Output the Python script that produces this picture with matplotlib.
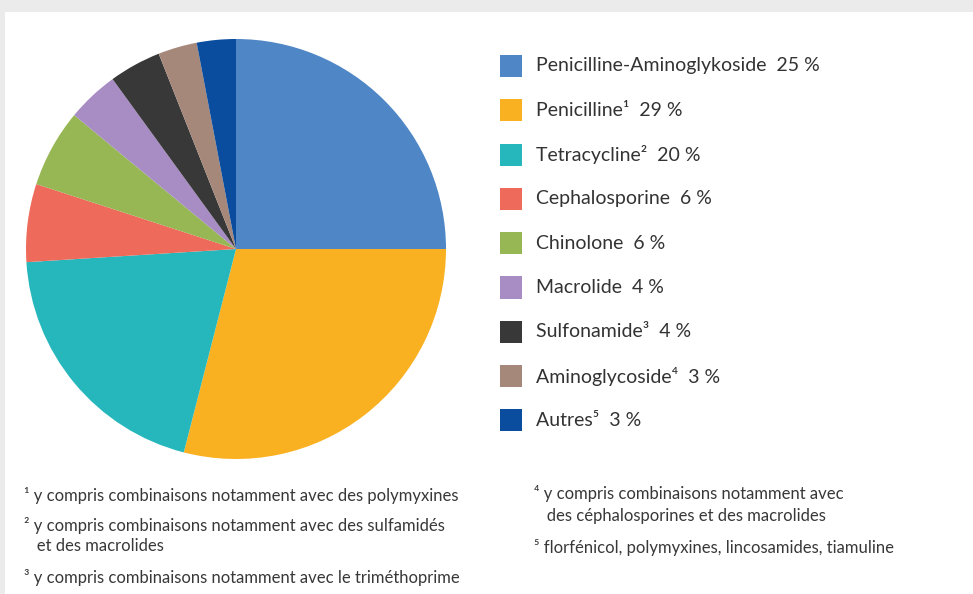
import matplotlib.pyplot as plt
from matplotlib.patches import Rectangle

W, H = 973, 594

classes = ['Penicilline-Aminoglykoside', 'Penicilline¹', 'Tetracycline²', 'Cephalosporine',
           'Chinolone', 'Macrolide', 'Sulfonamide³', 'Aminoglycoside⁴', 'Autres⁵']
shares = [25, 29, 20, 6, 6, 4, 4, 3, 3]
colors = ['#4f86c6', '#f9b122', '#25b7bc', '#ee6a5a', '#96b754',
          '#a88cc4', '#383838', '#a6887a', '#0a4c9e']

notes_left = ['¹ y compris combinaisons notamment avec des polymyxines',
              '² y compris combinaisons notamment avec des sulfamidés',
              '   et des macrolides',
              '³ y compris combinaisons notamment avec le triméthoprime']
notes_right = ['⁴ y compris combinaisons notamment avec',
               '   des céphalosporines et des macrolides',
               '⁵ florfénicol, polymyxines, lincosamides, tiamuline']

plt.rcParams['font.family'] = ['Lato', 'DejaVu Sans']


def fx(x):
    return x / W


def fy(y):
    return 1 - y / H


fig = plt.figure(figsize=(W / 100, H / 100), dpi=100, facecolor='#ebebeb')
fig.add_artist(Rectangle((fx(5), 0), 1 - fx(5), fy(12), transform=fig.transFigure,
                         facecolor='white', edgecolor='none', zorder=0))

# pie centred at (236, 249) px, radius 210 px
cx, cy, r = 236, 249, 210
ax = fig.add_axes([fx(cx - r), fy(cy + r), 2 * r / W, 2 * r / H])
ax.pie(shares, colors=colors, startangle=90, counterclock=False, radius=1,
       wedgeprops=dict(linewidth=0))
ax.set_xlim(-1, 1)
ax.set_ylim(-1, 1)
ax.set_aspect('auto')
ax.axis('off')

# legend rows
for i, (name, val, col) in enumerate(zip(classes, shares, colors)):
    yc = 66 + i * 44.3
    fig.add_artist(Rectangle((fx(500), fy(yc + 11)), 22 / W, 22 / H,
                             transform=fig.transFigure, facecolor=col, edgecolor='none'))
    fig.text(fx(536), fy(yc), f'{name}  {val} %', fontsize=14, color='#333333',
             va='center', ha='left')

for y, line in zip([495, 525, 546, 577], notes_left):
    fig.text(fx(24), fy(y), line, fontsize=12, color='#383838', va='center', ha='left')
for y, line in zip([494, 516, 548], notes_right):
    fig.text(fx(534), fy(y), line, fontsize=12, color='#383838', va='center', ha='left')

fig.savefig('out.png', dpi=100, facecolor=fig.get_facecolor())
